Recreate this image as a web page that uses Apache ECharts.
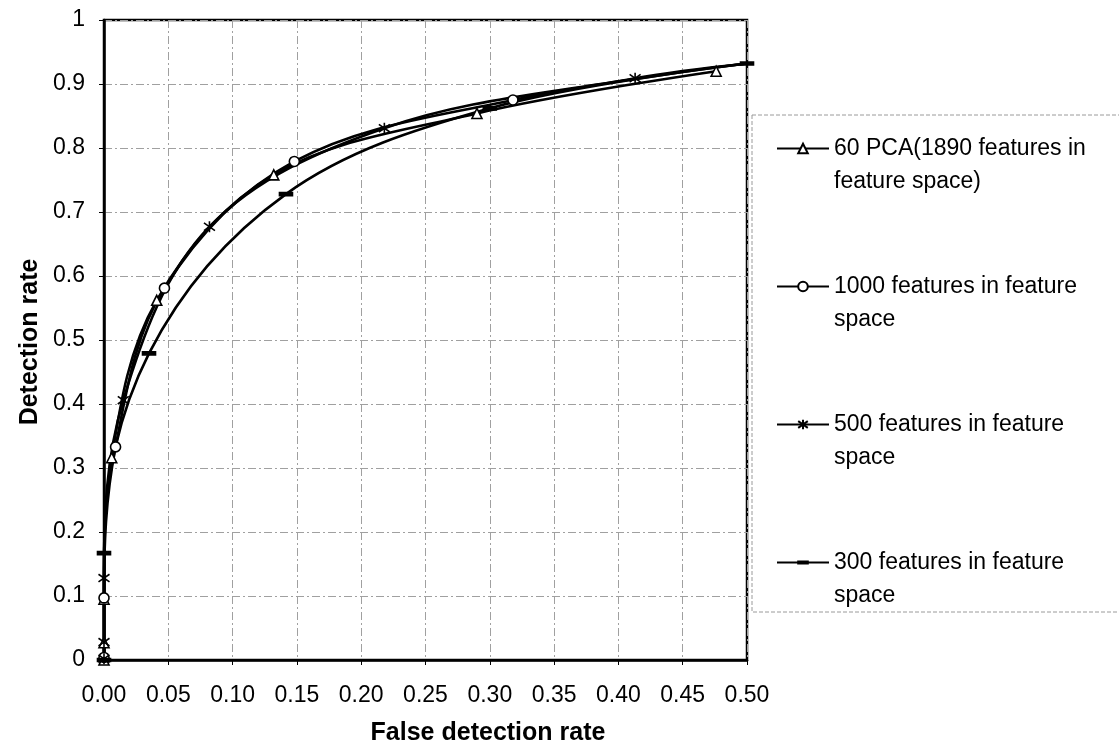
<!DOCTYPE html>
<html>
<head>
<meta charset="utf-8">
<script src="https://cdn.jsdelivr.net/npm/echarts@6/dist/echarts.min.js"></script>
<style>
  html, body { margin: 0; padding: 0; background: #fff; }
  #chart { width: 1119px; height: 754px; }
</style>
</head>
<body>
<div id="chart"></div>
<script>
// ROC curves: detection rate vs false detection rate for several feature-space sizes
const seriesNames = [
  '60 PCA(1890 features in\nfeature space)',
  '1000 features in feature\nspace',
  '500 features in feature\nspace',
  '300 features in feature\nspace'
];

const pca60X = [0, 0, 0, 0.006, 0.041, 0.132, 0.290, 0.476];
const pca60Y = [0, 0.027, 0.095, 0.316, 0.562, 0.758, 0.854, 0.920];

const f1000X = [0, 0, 0.009, 0.047, 0.148, 0.318, 0.5];
const f1000Y = [0.004, 0.097, 0.333, 0.581, 0.779, 0.875, 0.932];

const f500X = [0, 0, 0, 0.015, 0.082, 0.218, 0.413, 0.5];
const f500Y = [0.002, 0.028, 0.128, 0.406, 0.677, 0.831, 0.909, 0.932];

const f300X = [0, 0, 0.035, 0.1415, 0.30, 0.5];
const f300Y = [0, 0.167, 0.479, 0.728, 0.862, 0.932];

const xTicks = ['0.00', '0.05', '0.10', '0.15', '0.20', '0.25', '0.30', '0.35', '0.40', '0.45', '0.50'];
const yTicks = ['0', '0.1', '0.2', '0.3', '0.4', '0.5', '0.6', '0.7', '0.8', '0.9', '1'];

const xTitle = 'False detection rate';
const yTitle = 'Detection rate';

const FONT = 'Liberation Sans, Arial, sans-serif';
const FS = 23;
const TITLE_FS = 25;
const starPath = 'path://M5,0 L5,10 M1,1.5 L9,8.5 M1,8.5 L9,1.5';
// short bar inside a square frame (the move-to corners keep the box square)
const dashPath = 'path://M0,0 M0,4.6 L12,4.6 L12,7.4 L0,7.4 Z M12,12';

// pair x/y arrays; a closing point on the right border carries no marker unless asked
function pairs(xs, ys, markLast) {
  return xs.map((x, i) => {
    const item = { value: [x, ys[i]] };
    if (!markLast && i === xs.length - 1 && x >= 0.5) item.symbol = 'none';
    return item;
  });
}

function lineSeries(name, data, symbol, size, filled) {
  return {
    name: name,
    type: 'line',
    data: data,
    smooth: 0.35,
    symbol: symbol,
    symbolSize: size,
    showAllSymbol: true,
    clip: true,
    lineStyle: { color: '#000', width: 2.6 },
    itemStyle: {
      color: filled ? '#000' : '#fff',
      borderColor: '#000',
      borderWidth: 1.6
    },
    emphasis: { disabled: true },
    z: 3
  };
}

const chart = echarts.init(document.getElementById('chart'), null, { renderer: 'canvas' });

const gridLine = { show: true, lineStyle: { color: '#a0a0a0', width: 1, type: [8, 3, 2, 3] } };

chart.setOption({
  backgroundColor: '#fff',
  animation: false,
  grid: {
    left: 104, right: 372, top: 20, bottom: 94,
    show: true, borderColor: '#000', borderWidth: 2.5
  },
  graphic: [
    {
      type: 'rect',
      shape: { x: 752, y: 115, width: 420, height: 497 },
      style: { fill: 'none', stroke: '#9a9a9a', lineWidth: 1, lineDash: [4, 2] },
      silent: true,
      z: 1
    },
    {
      type: 'text',
      x: 488, y: 733,
      style: {
        text: xTitle, font: 'bold ' + TITLE_FS + 'px ' + FONT, fill: '#000',
        align: 'center', verticalAlign: 'middle'
      },
      silent: true
    },
    {
      type: 'text',
      x: 30, y: 342,
      rotation: Math.PI / 2,
      style: {
        text: yTitle, font: 'bold ' + TITLE_FS + 'px ' + FONT, fill: '#000',
        align: 'center', verticalAlign: 'middle'
      },
      silent: true
    }
  ],
  legend: {
    orient: 'vertical',
    left: 776,
    top: 99,
    padding: 0,
    itemWidth: 52,
    itemHeight: 12,
    itemGap: 39,
    selectedMode: false,
    // a blank first line puts the marker level with the first text line
    formatter: (name) => ' \n' + name,
    textStyle: {
      fontFamily: FONT,
      fontSize: FS,
      color: '#000',
      lineHeight: 33
    },
    data: seriesNames
  },
  xAxis: {
    type: 'value',
    min: 0, max: 0.5, interval: 0.05,
    axisLine: { show: true, onZero: false, lineStyle: { color: '#000', width: 2.5 } },
    axisTick: { show: true, length: 5, lineStyle: { color: '#000', width: 1 } },
    axisLabel: {
      fontFamily: FONT, fontSize: FS, color: '#000', margin: 24,
      formatter: (v) => xTicks[Math.round(v / 0.05)]
    },
    splitLine: gridLine
  },
  yAxis: {
    type: 'value',
    min: 0, max: 1, interval: 0.1,
    axisLine: { show: true, onZero: false, lineStyle: { color: '#000', width: 2.5 } },
    axisTick: { show: true, length: 5, lineStyle: { color: '#000', width: 1 } },
    axisLabel: {
      fontFamily: FONT, fontSize: FS, color: '#000', margin: 19,
      formatter: (v) => yTicks[Math.round(v / 0.1)]
    },
    splitLine: gridLine
  },
  series: [
    lineSeries(seriesNames[0], pairs(pca60X, pca60Y, false), 'triangle', 10, false),
    lineSeries(seriesNames[1], pairs(f1000X, f1000Y, false), 'circle', 10, false),
    lineSeries(seriesNames[2], pairs(f500X, f500Y, false), starPath, 11, false),
    lineSeries(seriesNames[3], pairs(f300X, f300Y, true), dashPath, 13, true)
  ]
});
</script>
</body>
</html>
